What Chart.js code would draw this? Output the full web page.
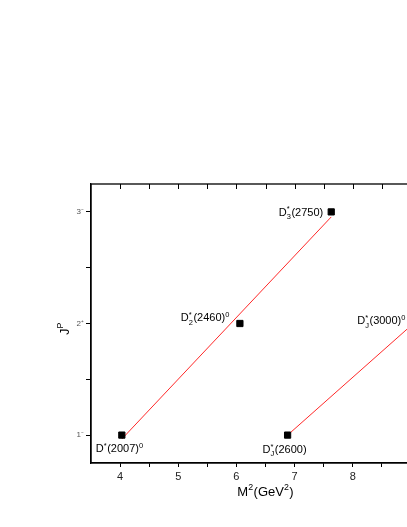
<!DOCTYPE html>
<html>
<head>
<meta charset="utf-8">
<script src="https://cdn.jsdelivr.net/npm/chart.js@4"></script>
<style>
  html, body { margin:0; padding:0; background:#fff; overflow:hidden; }
  #wrap { position:relative; width:470px; height:527px; }
</style>
</head>
<body>
<div id="wrap"><canvas id="chart"></canvas></div>
<script>
// =====================
// DATA
// =====================
const massSq = [4.03, 6.06, 7.63, 6.88, 9.0]
const spin = [1, 2, 3, 1, 2]
const stateNames = ['D^{*}(2007)^{0}', 'D^{*}_{2}(2460)^{0}', 'D^{*}_{3}(2750)', 'D^{*}_{J}(2600)', 'D^{*}_{J}(3000)^{0}']

// Regge trajectory fits
const fit1X = [4.03, 7.63]
const fit1Y = [0.965, 2.955]
const fit2X = [6.88, 9.0]
const fit2Y = [1.0, 1.98]

const xTicks = [4, 4.5, 5, 5.5, 6, 6.5, 7, 7.5, 8, 8.5, 9]
const yTicks = [1, 1.5, 2, 2.5, 3]
const yTickLabels = {1:'1⁻', 2:'2⁺', 3:'3⁻'}

const xTitle = 'M^{2}(GeV^{2})'
const yTitle = 'J^{P}'

// label placement next to each point (pixels)
const labelPos = [
  {dx:-26, dy:13, align:'left'},
  {dx:-10, dy:-6, align:'right'},
  {dx:-8, dy:0, align:'right'},
  {dx:-25, dy:14, align:'left'},
  {dx:-5, dy:-3, align:'right'}
]

const FONT = 'Arial, "Liberation Sans", sans-serif'

// =====================
// RICH TEXT (sup / sub)
// =====================
function parseRich(s){
  let items = []
  let i = 0
  while(i < s.length){
    let c = s[i]
    if((c === '^' || c === '_') && s[i+1] === '{'){
      let end = s.indexOf('}', i)
      let txt = s.slice(i+2, end)
      let key = c === '^' ? 'sup' : 'sub'
      let last = items[items.length-1]
      if(last && last.type === 'script' && !last[key]) last[key] = txt
      else items.push({type:'script', sup:'', sub:'', [key]:txt})
      i = end + 1
    } else {
      let last = items[items.length-1]
      if(last && last.type === 'text') last.t += c
      else items.push({type:'text', t:c})
      i++
    }
  }
  return items
}

function drawRich(ctx, s, x, y, size, align){
  let items = parseRich(s)
  let small = size * 0.68
  let big = `${size}px ${FONT}`
  let sm = `${small}px ${FONT}`
  let widths = items.map(it => {
    if(it.type === 'text'){ ctx.font = big; return ctx.measureText(it.t).width }
    ctx.font = sm
    return Math.max(ctx.measureText(it.sup).width, ctx.measureText(it.sub).width) + 0.5
  })
  let total = widths.reduce((a,b)=>a+b, 0)
  let cx = align === 'right' ? x - total : align === 'center' ? x - total/2 : x
  let base = y + size*0.36
  ctx.textAlign = 'left'
  ctx.textBaseline = 'alphabetic'
  items.forEach((it, k) => {
    if(it.type === 'text'){
      ctx.font = big
      ctx.fillText(it.t, cx, base)
    } else {
      ctx.font = sm
      if(it.sup) ctx.fillText(it.sup, cx, base - size*0.4)
      if(it.sub) ctx.fillText(it.sub, cx, base + size*0.3)
    }
    cx += widths[k]
  })
}

// =====================
// FRAME, LABELS, TITLES
// =====================
const decorPlugin = {
  id: 'decor',
  afterDraw(chart){
    const {ctx, chartArea:a, scales:{x, y}} = chart
    ctx.save()
    ctx.strokeStyle = '#000'
    ctx.lineWidth = 1.3
    ctx.strokeRect(a.left, a.top, a.right - a.left, a.bottom - a.top)

    // inward ticks on the top and right edges
    ctx.lineWidth = 1
    x.ticks.forEach(t => {
      let px = Math.round(x.getPixelForValue(t.value)) + 0.5
      ctx.beginPath(); ctx.moveTo(px, a.top); ctx.lineTo(px, a.top + 5); ctx.stroke()
    })
    y.ticks.forEach(t => {
      let py = Math.round(y.getPixelForValue(t.value)) + 0.5
      ctx.beginPath(); ctx.moveTo(a.right, py); ctx.lineTo(a.right - 5, py); ctx.stroke()
    })

    // state labels
    ctx.fillStyle = '#000'
    stateNames.forEach((name, i) => {
      let p = labelPos[i]
      let px = x.getPixelForValue(massSq[i])
      let py = y.getPixelForValue(spin[i])
      drawRich(ctx, name, px + p.dx, py + p.dy, 11, p.align)
    })

    // axis titles
    drawRich(ctx, xTitle, (a.left + a.right)/2, a.bottom + 28, 13, 'center')
    ctx.translate(64, (a.top + a.bottom)/2 + 5)
    ctx.rotate(-Math.PI/2)
    drawRich(ctx, yTitle, 0, 0, 13, 'center')
    ctx.restore()
  }
}

// =====================
// CHART
// =====================
new Chart(document.getElementById('chart'), {
  type: 'scatter',
  data: {
    datasets: [
      {
        label: 'states',
        data: massSq.map((m, i) => ({x:m, y:spin[i]})),
        pointStyle: 'rect',
        pointRadius: 4.4,
        backgroundColor: '#000',
        borderColor: '#000',
        borderWidth: 1
      },
      {
        label: 'fit1',
        data: fit1X.map((v, i) => ({x:v, y:fit1Y[i]})),
        showLine: true,
        borderColor: 'rgb(255,40,40)',
        borderWidth: 1,
        pointRadius: 0
      },
      {
        label: 'fit2',
        data: fit2X.map((v, i) => ({x:v, y:fit2Y[i]})),
        showLine: true,
        borderColor: 'rgb(255,40,40)',
        borderWidth: 1,
        pointRadius: 0
      }
    ]
  },
  options: {
    responsive: true,
    maintainAspectRatio: false,
    animation: false,
    layout: { padding: {top:184, right:30, left:0, bottom:0} },
    plugins: { legend:{display:false}, tooltip:{enabled:false} },
    scales: {
      x: {
        type: 'linear', min: 3.5, max: 9.5,
        afterBuildTicks: s => { s.ticks = xTicks.map(v => ({value:v})) },
        afterFit: s => { s.height = 64 },
        grid: { drawOnChartArea:false, tickLength:4, color:'#000', tickWidth:1 },
        border: { color:'#000', width:1.3 },
        ticks: {
          callback: v => Number.isInteger(v) ? String(v) : '',
          font: {family:FONT, size:11}, color:'#222',
          padding: 3, maxRotation: 0, autoSkip: false
        }
      },
      y: {
        type: 'linear', min: 0.75, max: 3.25,
        afterBuildTicks: s => { s.ticks = yTicks.map(v => ({value:v})) },
        afterFit: s => { s.width = 91 },
        grid: { drawOnChartArea:false, tickLength:5, color:'#000', tickWidth:1 },
        border: { color:'#000', width:1.3 },
        ticks: {
          callback: v => yTickLabels[v] || '',
          font: {family:FONT, size:8}, color:'#555',
          padding: 2, autoSkip: false
        }
      }
    }
  },
  plugins: [decorPlugin]
})
</script>
</body>
</html>
